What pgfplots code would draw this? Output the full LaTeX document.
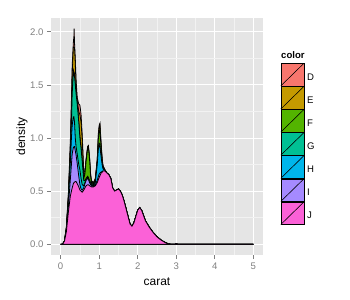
\documentclass[border=0pt]{standalone}
\usepackage{pgfplots}
\usepackage{pgfplotstable}
\pgfplotsset{compat=1.18}
\usepackage{fontspec}
\setmainfont{Liberation Sans}
\definecolor{cD}{HTML}{F8766D}
\definecolor{cE}{HTML}{C49A00}
\definecolor{cF}{HTML}{53B400}
\definecolor{cG}{HTML}{00C094}
\definecolor{cH}{HTML}{00B6EB}
\definecolor{cI}{HTML}{A58AFF}
\definecolor{cJ}{HTML}{FB61D7}
\definecolor{grey90}{HTML}{E5E5E5}
\definecolor{grey95}{HTML}{F2F2F2}
\definecolor{grey50}{HTML}{7F7F7F}
\pgfplotstableread{
x     J     I     H     G     F     E     D
0     0     0     0     0     0     0     0
0.05  0     0     0     0     0     0     0
0.1   0.03  0.03  0.03  0.03  0.03  0.03  0.03
0.15  0.12  0.13  0.14  0.15  0.15  0.16  0.17
0.2   0.30  0.35  0.40  0.42  0.43  0.45  0.47
0.25  0.45  0.60  0.75  0.82  0.84  0.90  0.95
0.28  0.50  0.75  1.00  1.15  1.17  1.28  1.36
0.3   0.53  0.85  1.12  1.42  1.44  1.60  1.68
0.33  0.57  0.91  1.20  1.62  1.64  1.85  1.90
0.345 0.58  0.915 1.20  1.60  1.62  1.86  1.96
0.35  0.58  0.92  1.18  1.60  1.62  1.86  2.03
0.36  0.585 0.92  1.15  1.58  1.60  1.85  1.90
0.38  0.59  0.88  1.00  1.50  1.52  1.70  1.75
0.4   0.59  0.84  0.92  1.42  1.44  1.50  1.55
0.43  0.57  0.76  0.85  1.32  1.34  1.35  1.38
0.47  0.54  0.64  0.75  1.15  1.17  1.25  1.32
0.5   0.51  0.56  0.70  1.00  1.02  1.22  1.31
0.53  0.50  0.52  0.62  0.90  0.92  1.15  1.22
0.56  0.49  0.51  0.56  0.78  0.80  0.98  1.03
0.6   0.51  0.53  0.55  0.60  0.62  0.64  0.68
0.63  0.53  0.57  0.58  0.60  0.66  0.67  0.69
0.66  0.55  0.60  0.61  0.62  0.78  0.79  0.80
0.7   0.56  0.62  0.63  0.64  0.90  0.91  0.92
0.72  0.56  0.61  0.62  0.63  0.91  0.92  0.93
0.75  0.55  0.58  0.59  0.60  0.80  0.81  0.82
0.78  0.545 0.56  0.57  0.58  0.63  0.64  0.65
0.8   0.54  0.55  0.56  0.57  0.58  0.59  0.60
0.85  0.54  0.545 0.55  0.56  0.57  0.575 0.58
0.9   0.55  0.56  0.58  0.59  0.60  0.61  0.62
0.95  0.58  0.60  0.75  0.76  0.78  0.79  0.80
0.98  0.61  0.64  0.90  0.92  1.00  1.03  1.05
1.0   0.63  0.66  0.93  0.95  1.06  1.10  1.12
1.02  0.645 0.67  0.92  0.94  1.08  1.12  1.14
1.05  0.67  0.68  0.82  0.83  0.90  0.93  0.95
1.08  0.68  0.685 0.74  0.745 0.77  0.78  0.80
1.1   0.69  0.69  0.71  0.715 0.73  0.735 0.74
1.15  0.69  0.69  0.69  0.69  0.695 0.70  0.70
1.2   0.67  0.67  0.67  0.67  0.67  0.67  0.67
1.25  0.655 0.655 0.655 0.655 0.655 0.655 0.655
1.3   0.62  0.62  0.62  0.62  0.62  0.62  0.62
1.35  0.53  0.53  0.53  0.53  0.53  0.53  0.53
1.4   0.50  0.50  0.50  0.50  0.50  0.50  0.50
1.45  0.51  0.51  0.51  0.51  0.51  0.51  0.51
1.5   0.52  0.52  0.52  0.52  0.52  0.52  0.52
1.55  0.50  0.50  0.50  0.50  0.50  0.50  0.50
1.6   0.46  0.46  0.46  0.46  0.46  0.46  0.46
1.65  0.40  0.40  0.40  0.40  0.40  0.40  0.40
1.7   0.33  0.33  0.33  0.33  0.33  0.33  0.33
1.75  0.26  0.26  0.26  0.26  0.26  0.26  0.26
1.8   0.19  0.19  0.19  0.19  0.19  0.19  0.19
1.85  0.17  0.17  0.17  0.17  0.17  0.17  0.17
1.9   0.20  0.20  0.20  0.20  0.20  0.20  0.20
1.95  0.26  0.26  0.26  0.26  0.26  0.26  0.26
2.0   0.32  0.32  0.32  0.32  0.32  0.32  0.32
2.05  0.345 0.345 0.345 0.345 0.345 0.345 0.345
2.1   0.32  0.32  0.32  0.32  0.32  0.32  0.32
2.15  0.27  0.27  0.27  0.27  0.27  0.27  0.27
2.2   0.22  0.22  0.22  0.22  0.22  0.22  0.22
2.25  0.19  0.19  0.19  0.19  0.19  0.19  0.19
2.3   0.16  0.16  0.16  0.16  0.16  0.16  0.16
2.4   0.11  0.11  0.11  0.11  0.11  0.11  0.11
2.5   0.07  0.07  0.07  0.07  0.07  0.07  0.07
2.6   0.04  0.04  0.04  0.04  0.04  0.04  0.04
2.7   0.018 0.018 0.018 0.018 0.018 0.018 0.018
2.8   0.003 0.003 0.003 0.003 0.003 0.003 0.003
2.85  0     0     0     0     0     0     0
2.97  0     0     0     0     0     0     0
3.0   0.006 0.006 0.006 0.006 0.006 0.006 0.006
3.03  0     0     0     0     0     0     0
5     0     0     0     0     0     0     0
}\dens
\begin{document}
\begin{tikzpicture}
\path[use as bounding box] (-51bp,-45bp) rectangle (299bp,255bp);
\begin{axis}[
  scale only axis, width=212bp, height=237bp,
  xmin=-0.25, xmax=5.25, ymin=-0.1015, ymax=2.13,
  axis background/.style={fill=grey90},
  axis line style={draw=none},
  xtick={0,1,2,3,4,5}, ytick={0,0.5,1,1.5,2},
  minor xtick={0.5,1.5,2.5,3.5,4.5},
  minor ytick={0.25,0.75,1.25,1.75},
  grid=both,
  major grid style={white, line width=1bp},
  minor grid style={grey95, line width=0.5bp},
  tick align=outside, tick pos=left,
  major tick length=4bp, minor tick length=0pt,
  tick style={grey50, line width=0.8bp},
  /pgf/number format/assume math mode=true,
  ticklabel style={font=\fontsize{9.6}{11}\selectfont, text=grey50},
  yticklabel style={/pgf/number format/.cd, fixed, fixed zerofill, precision=1},
  xlabel={carat}, ylabel={density},
  label style={font=\fontsize{12}{14}\selectfont},
  xlabel style={at={(axis description cs:0.5,-0.114)}, anchor=center},
  ylabel style={at={(axis description cs:-0.137,0.5)}, anchor=center},
  legend style={at={(1.083,0.810)}, anchor=north west, draw=none, fill=none,
    inner sep=0pt, outer sep=0pt, /tikz/row sep=0pt,
    font=\fontsize{9.6}{11}\selectfont,
    nodes={inner xsep=3bp, inner ysep=0pt}},
  legend cell align=left,
  legend image code/.code={
    \draw[#1, line width=0.6bp] (0bp,-8bp) rectangle (23bp,14.5bp);
    \draw[black, line width=0.5bp] (0bp,-8bp) -- (23bp,14.5bp);},
]
\addplot[fill=cD, draw=black, line width=0.8bp] table[x=x, y=D] {\dens} \closedcycle;
\addlegendentry{D}
\addplot[fill=cE, draw=black, line width=0.8bp] table[x=x, y=E] {\dens} \closedcycle;
\addlegendentry{E}
\addplot[fill=cF, draw=black, line width=0.8bp] table[x=x, y=F] {\dens} \closedcycle;
\addlegendentry{F}
\addplot[fill=cG, draw=black, line width=0.8bp] table[x=x, y=G] {\dens} \closedcycle;
\addlegendentry{G}
\addplot[fill=cH, draw=black, line width=0.8bp] table[x=x, y=H] {\dens} \closedcycle;
\addlegendentry{H}
\addplot[fill=cI, draw=black, line width=0.8bp] table[x=x, y=I] {\dens} \closedcycle;
\addlegendentry{I}
\addplot[fill=cJ, draw=black, line width=0.8bp] table[x=x, y=J] {\dens} \closedcycle;
\addlegendentry{J}
\end{axis}
\node[anchor=west, inner sep=0pt, font=\bfseries\fontsize{9.6}{11}\selectfont] at (230bp,200bp) {color};
\end{tikzpicture}
\end{document}
